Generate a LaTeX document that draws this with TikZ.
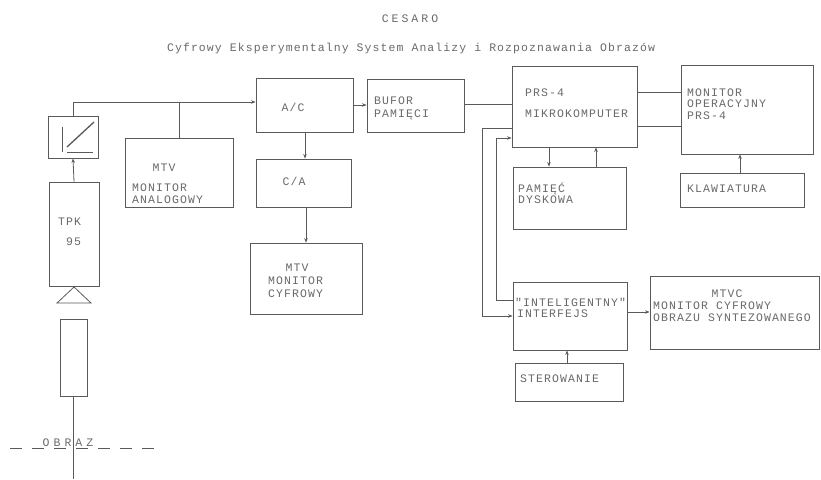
\documentclass[tikz,border=0pt]{standalone}
\usepackage{fontspec}
\newfontfamily\plotfont[LetterSpace=9.5]{Liberation Mono}
\usetikzlibrary{arrows.meta}
\definecolor{ln}{HTML}{5A5A5A}
\definecolor{tx}{HTML}{6A6A6A}
\tikzset{
  box/.style={draw=ln, line width=0.8pt, inner sep=0pt},
  lbl/.style={text=tx, font=\plotfont\fontsize{11.5}{12}\selectfont, inner sep=0pt, anchor=base west},
  lblc/.style={lbl, anchor=base},
  conn/.style={draw=ln, line width=0.8pt},
  arr/.style={conn, -{Stealth[length=4.5pt,width=3.5pt]}},
}
\newcommand\mybox[5]{\node[box, minimum width={#4-#2}, minimum height={#5-#3}] (#1) at ({(#2+#4)/2},{(#3+#5)/2}) {};}
\begin{document}
\begin{tikzpicture}[x=1pt,y=-1pt]
\useasboundingbox[fill=white] (0,0) rectangle (821,479);

% titles
\node[lblc] (title) at (410,22) {C\kern3pt E\kern3pt S\kern3pt A\kern3pt R\kern3pt O};
\node[lblc] (subtitle) at (411,51) {Cyfrowy Eksperymentalny System Analizy i Rozpoznawania Obrazów};

% boxes
\mybox{trans}{48}{116}{98}{158}
\mybox{tpk}{49}{182}{99}{286}
\mybox{tube}{60}{319}{87}{396}
\mybox{mtva}{125}{138}{233}{207}
\mybox{ac}{256}{78}{353}{132}
\mybox{buf}{367}{79}{464}{132}
\mybox{ca}{256}{159}{351}{207}
\mybox{mtvd}{250}{243}{362}{314}
\mybox{mikro}{512}{66}{637}{147}
\mybox{monop}{681}{65}{813}{154}
\mybox{klaw}{680}{173}{804}{207}
\mybox{pam}{513}{167}{626}{229}
\mybox{intf}{513}{282}{627}{350}
\mybox{mtvc}{650}{276}{819}{349}
\mybox{ster}{515}{363}{623}{401}

% transducer symbol
\draw[conn] (62,127) -- (62,152);
\draw[conn] (67,152) -- (93,152);
\draw[conn, line width=1.3pt] (67,147) -- (94,122);

% lens triangle
\coordinate (triA) at (74,287);
\coordinate (triB) at (57,303);
\coordinate (triC) at (91,303);
\draw[conn] (triA) -- (triB) -- (triC) -- cycle;

% object line
\coordinate (objB) at (73,479);
\draw[conn] (tube.south) -- (tube.south |- objB);
\coordinate (oL) at (10,448);
\coordinate (oR) at (155,448);
\draw[conn, dash pattern=on 12pt off 10pt] (oL) -- (oR);
\node[lblc] (obraz) at (68,446) {O\kern4pt B\kern4pt R\kern4pt A\kern4pt Z};

% labels
\node[lblc] (l1) at (164,171) {MTV};
\node[lbl] (l2) at (132,191) {MONITOR};
\node[lbl] (l3) at (132,203) {ANALOGOWY};
\node[lbl] (l4) at (58,225) {TPK};
\node[lbl] (l5) at (66,245) {95};
\node[lblc] (l6) at (293,111) {A/C};
\node[lblc] (l7) at (294,185) {C/A};
\node[lbl] (l8) at (374,104) {BUFOR};
\node[lbl] (l9) at (374,117) {PAMIĘCI};
\node[lblc] (l10) at (297,271) {MTV};
\node[lbl] (l11) at (268,284) {MONITOR};
\node[lbl] (l12) at (268,297) {CYFROWY};
\node[lbl] (l13) at (525,96) {PRS-4};
\node[lbl] (l14) at (525,117) {MIKROKOMPUTER};
\node[lbl] (l15) at (687,96) {MONITOR};
\node[lbl] (l16) at (687,107.5) {OPERACYJNY};
\node[lbl] (l17) at (687,119) {PRS-4};
\node[lbl] (l18) at (687,192) {KLAWIATURA};
\node[lbl] (l19) at (518,192) {PAMIĘĆ};
\node[lbl] (l20) at (518,203.5) {DYSKOWA};
\node[lbl] (l21) at (515,306) {"INTELIGENTNY"};
\node[lbl] (l22) at (517,317.5) {INTERFEJS};
\node[lblc] (l23) at (727,297) {MTVC};
\node[lbl] (l24) at (653,309.5) {MONITOR CYFROWY};
\node[lbl] (l25) at (653,321.5) {OBRAZU SYNTEZOWANEGO};
\node[lbl] (l26) at (520,382) {STEROWANIE};

% connectors
\coordinate (bus) at (73,102);
\draw[arr] (trans.north) -- (bus) -- (bus -| ac.west);
\draw[conn] (mtva.north) -- (mtva.north |- bus);
\draw[arr] (tpk.north) -- (trans.south);
\draw[arr] (ac.east) -- (ac.east -| buf.west);
\draw[arr] (ac.south -| 305,0) -- (ca.north -| 305,0);
\draw[arr] (ca.south -| 306,0) -- (mtvd.north -| 306,0);
\coordinate (bm) at (464,104);
\draw[conn] (bm) -- (bm -| mikro.west);
\draw[conn] (mikro.east |- 0,92) -- (monop.west |- 0,92);
\draw[conn] (mikro.east |- 0,126) -- (monop.west |- 0,126);
\draw[arr] (mikro.south -| 549,0) -- (pam.north -| 549,0);
\draw[arr] (pam.north -| 596,0) -- (mikro.south -| 596,0);
\draw[arr] (klaw.north -| 740,0) -- (monop.south -| 740,0);
\coordinate (outA) at (482,128);
\coordinate (outB) at (482,316);
\draw[arr] (mikro.west |- outA) -- (outA) -- (outB) -- (outB -| intf.west);
\coordinate (inA) at (496,300);
\coordinate (inB) at (496,138);
\draw[arr] (intf.west |- inA) -- (inA) -- (inB) -- (inB -| mikro.west);
\draw[arr] (intf.east |- 0,312) -- (mtvc.west |- 0,312);
\draw[arr] (ster.north -| 567,0) -- (intf.south -| 567,0);
\end{tikzpicture}
\end{document}
